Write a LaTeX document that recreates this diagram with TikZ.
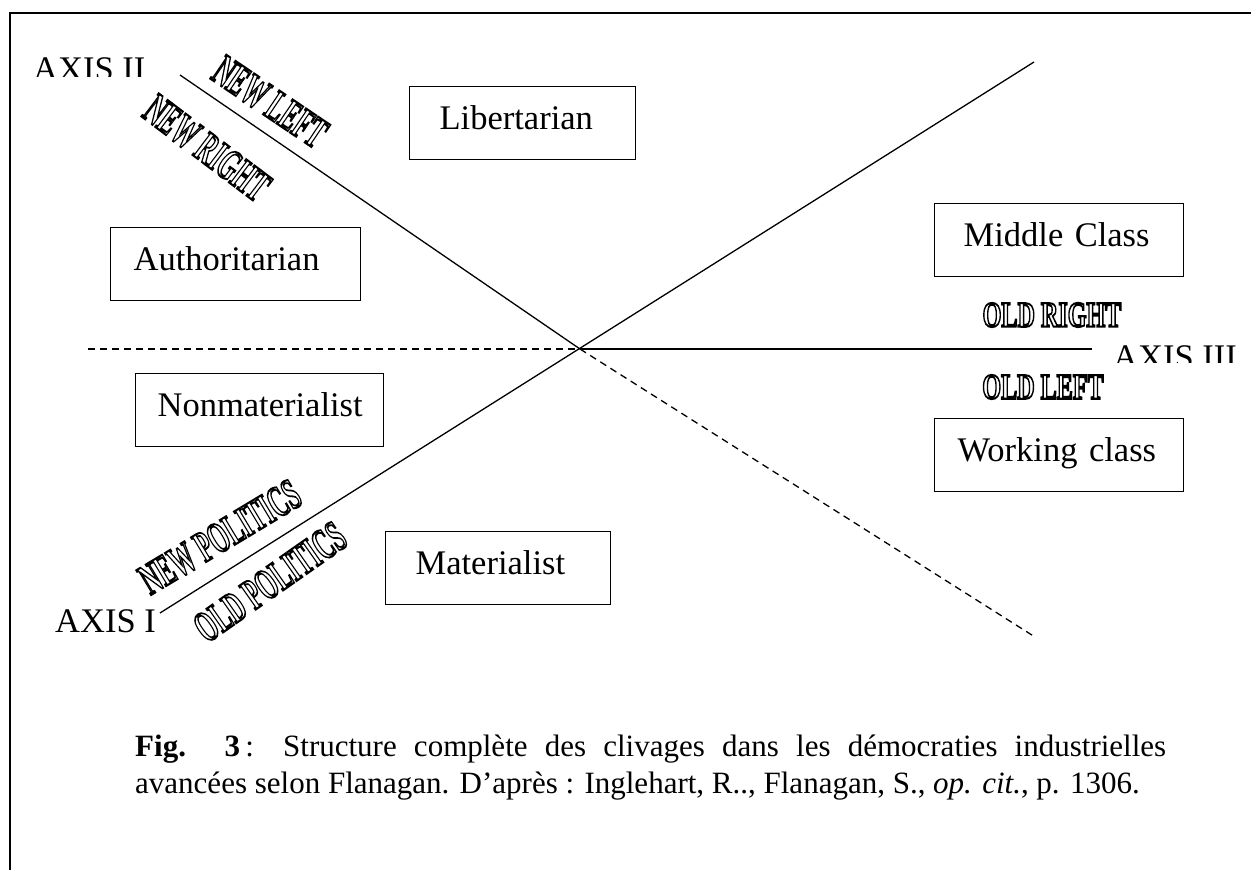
\documentclass[tikz,border=0pt]{standalone}
\usepackage{fontspec}
\setmainfont{Liberation Serif}
\usepackage{graphicx}
\newcommand{\wordart}[2]{\scalebox{#1}[1]{\textcolor{white}{\special{pdf:literal direct 2 Tr 2.0 w 0 G}#2\special{pdf:literal direct 0 Tr}}}}
\begin{document}
\begin{tikzpicture}[x=1pt,y=-1pt,
  boxed/.style={draw, line width=1.3pt, anchor=north west, minimum height=73pt,
    inner ysep=0pt, align=left, text height=24pt, text depth=11pt,
    font=\fontsize{34.5}{40}\selectfont},
  axislabel/.style={inner sep=0pt, anchor=base west, font=\fontsize{34.5}{40}\selectfont},
  wa/.style={inner sep=0pt, font=\bfseries\fontsize{36}{40}\selectfont},
  walarge/.style={inner sep=0pt, font=\bfseries\fontsize{44}{48}\selectfont},
  axis/.style={line width=1.3pt},
  axisdash/.style={line width=1.3pt, dash pattern=on 7pt off 5pt}]
\useasboundingbox (0,0) rectangle (1251,870);
% frame
\draw[line width=2pt] (10,890) -- (10,13) -- (1270,13);
% axis coordinates
\coordinate (O) at (580,349);
\coordinate (a2start) at (180,75);
\coordinate (a2end) at (1035,637);
\coordinate (a1start) at (160,613);
\coordinate (a1end) at (1034,62);
\coordinate (a3start) at (88,349);
\coordinate (a3end) at (1092,349);
% axes
\draw[axis] (a2start) -- (O);
\draw[axisdash] (O) -- (a2end);
\draw[axis] (a1start) -- (a1end);
\draw[axisdash] (a3start) -- (O);
\draw[axis] (O) -- (a3end);
% axis labels
\begin{scope}
\clip (0,0) rectangle (1251,76);
\node[axislabel] (ax2) at (33,80) {AXIS II};
\end{scope}
\begin{scope}
\clip (1100,300) rectangle (1251,362);
\node[axislabel] (ax3) at (1113,368) {AXIS III};
\end{scope}
\node[axislabel] (ax1) at (55,632) {AXIS I};
% boxes
\node[boxed, text width=166pt, inner xsep=30pt] (lib) at (409,86) {Libertarian};
\node[boxed, text width=204pt, inner xsep=23pt] (auth) at (110,227) {Authoritarian};
\node[boxed, text width=191pt, inner xsep=29pt] (mid) at (934,203) {Middle Class};
\node[boxed, text width=204pt, inner xsep=22pt] (nonmat) at (135,373) {Nonmaterialist};
\node[boxed, text width=203pt, inner xsep=23pt] (work) at (934,418) {Working class};
\node[boxed, text width=165pt, inner xsep=30pt] (mat) at (385,531) {Materialist};
% word-art labels
\node[walarge, rotate=-34] (nl) at (270,102) {\wordart{0.55}{NEW LEFT}};
\node[walarge, rotate=-37] (nr) at (207,148) {\wordart{0.55}{NEW RIGHT}};
\node[walarge, rotate=31] (np) at (220,537) {\wordart{0.55}{NEW POLITICS}};
\node[walarge, rotate=35] (op) at (270,582) {\wordart{0.55}{OLD POLITICS}};
\node[wa] (or) at (1052,315) {\wordart{0.67}{OLD RIGHT}};
\node[wa] (ol) at (1043,387) {\wordart{0.67}{OLD LEFT}};
% caption
\node[inner sep=0pt, anchor=base west, text width=1031pt, align=justify,
  font=\fontsize{31}{37}\selectfont] (cap) at (135,756)
  {\hyphenpenalty=10000 \textbf{Fig. 3}\,: Structure complète des clivages dans les démocraties industrielles\linebreak avancées selon Flanagan. D’après : Inglehart, R.., Flanagan, S., \textit{op. cit.}, p. 1306.};
\end{tikzpicture}
\end{document}
